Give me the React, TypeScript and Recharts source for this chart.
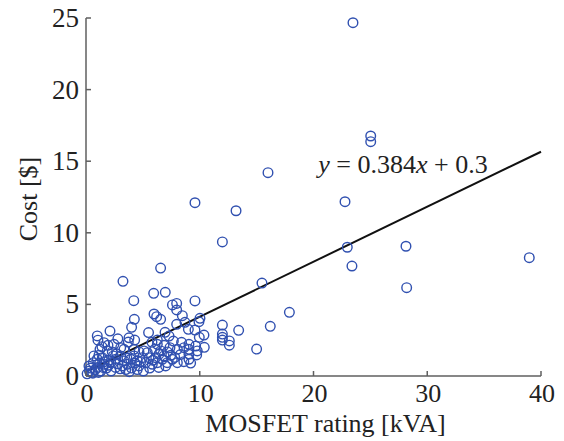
import { ScatterChart, Scatter, XAxis, YAxis, ReferenceLine, ReferenceDot, Label } from 'recharts';

// [kVA, $] pairs
const outlierPoints: [number, number][] = [
  [23.47, 24.67], [25.03, 16.76], [25.03, 16.36], [16.0, 14.2], [9.58, 12.1],
  [13.19, 11.54], [22.77, 12.17], [11.99, 9.36], [22.97, 8.99], [23.38, 7.68],
  [28.13, 9.06], [28.19, 6.17], [38.97, 8.26], [15.47, 6.49], [17.88, 4.45],
  [16.2, 3.47], [13.42, 3.19], [15.0, 1.88], [12.6, 2.45], [12.6, 2.15],
  [6.56, 7.54], [3.25, 6.61],
];

const upperPoints: [number, number][] = [
  [5.95, 5.77], [6.97, 5.84], [4.2, 5.26], [9.58, 5.24], [7.6, 4.96],
  [7.97, 5.07], [7.97, 4.61], [5.98, 4.33], [6.21, 4.14], [6.56, 3.96],
  [4.25, 3.96], [8.47, 4.21], [10.02, 4.03], [9.93, 3.79], [7.97, 3.61],
  [8.7, 3.75], [11.99, 3.56], [5.5, 3.03], [6.95, 3.05], [9.0, 3.26],
  [9.58, 3.21], [10.37, 2.86], [9.96, 2.7], [11.99, 2.93], [11.99, 2.7],
  [11.99, 2.51], [4.01, 3.4], [2.11, 3.14],
];

const middlePoints: [number, number][] = [
  [0.99, 2.8], [1.05, 2.5], [3.78, 2.67], [4.28, 2.51], [3.72, 2.37],
  [1.58, 2.33], [1.93, 2.14], [2.46, 2.21], [1.23, 1.86], [1.87, 1.75],
  [2.31, 1.68], [7.3, 2.79], [7.68, 2.44], [6.27, 2.21], [6.86, 2.14],
  [7.38, 1.98], [6.04, 1.86], [6.57, 1.75], [7.15, 1.68], [8.03, 1.86],
  [8.62, 1.98], [9.05, 2.21], [9.05, 1.86], [9.05, 1.52], [9.05, 1.17],
  [9.64, 2.09], [9.78, 1.75], [10.4, 2.0], [9.73, 1.47], [5.1, 1.75],
  [5.39, 1.63], [4.66, 1.68], [4.22, 1.86], [3.05, 1.98], [3.34, 1.86],
  [6.27, 2.51], [6.42, 1.52], [6.86, 1.4], [7.45, 1.45], [8.3, 1.5],
  [2.8, 2.6], [1.4, 2.05], [2.7, 1.55], [5.8, 2.35], [8.4, 2.35],
];

const lowerPoints: [number, number][] = [
  [0.26, 0.7], [0.64, 0.93], [0.99, 1.17], [1.43, 1.28], [1.58, 0.82],
  [2.17, 0.93], [2.61, 1.17], [3.05, 1.4], [3.34, 1.05], [3.63, 0.82],
  [3.93, 1.17], [4.22, 1.4], [4.51, 1.05], [4.66, 0.7], [4.95, 1.28],
  [5.25, 0.93], [5.04, 0.35], [5.54, 1.28], [5.83, 0.82], [6.27, 0.93],
  [6.13, 1.28], [6.71, 1.17], [7.15, 0.93], [7.59, 1.17], [8.03, 0.93],
  [0.7, 1.4], [1.14, 1.45], [0.1, 0.15], [0.3, 0.35], [0.5, 0.25],
  [0.8, 0.45], [1.0, 0.6], [1.3, 0.35], [1.8, 0.55], [2.2, 0.35],
  [2.6, 0.6], [3.0, 0.5], [3.5, 0.45], [4.0, 0.55], [1.2, 0.9],
  [2.0, 1.1], [2.8, 0.85], [4.3, 0.9], [5.6, 0.55], [6.4, 0.6],
  [7.0, 0.7], [0.4, 0.55], [1.6, 1.0], [2.4, 1.4], [8.6, 1.0],
  [9.2, 0.9], [1.5, 0.6], [2.0, 0.75], [3.2, 0.7], [3.8, 0.3],
  [4.5, 0.45], [0.6, 0.2], [1.1, 0.25], [3.6, 1.25], [4.8, 1.0],
  [5.9, 1.1], [7.8, 1.3],
];

const xTicks = [0, 10, 20, 30, 40];
const yTicks = [0, 5, 10, 15, 20, 25];
const fitSlope = 0.384;
const fitIntercept = 0.3;
const fitLabelAt = { x: 20.42, y: 14.16 };

const data = [...outlierPoints, ...upperPoints, ...middlePoints, ...lowerPoints].map(([x, y]) => ({ x, y }));

const serif = { fontFamily: "'Liberation Serif', 'Times New Roman', serif" };
const AXIS = '#5f5f5f';
const MARKER = '#3050b0';

const XTick = ({ x, y, payload }: any) => (
  <g>
    <line x1={x} y1={y} x2={x} y2={y - 5} stroke={AXIS} strokeWidth={1.5} />
    <text x={x + 1} y={y + 26} textAnchor="middle" fill="#222" style={{ ...serif, fontSize: 26 }}>
      {payload.value}
    </text>
  </g>
);

const YTick = ({ x, y, payload }: any) => (
  <g>
    <line x1={x} y1={y} x2={x + 5} y2={y} stroke={AXIS} strokeWidth={1.5} />
    <text x={x - 7} y={y + 9} textAnchor="end" fill="#222" style={{ ...serif, fontSize: 27 }}>
      {payload.value}
    </text>
  </g>
);

const Ring = ({ cx, cy }: any) => (
  <circle cx={cx} cy={cy} r={4.8} fill="none" stroke={MARKER} strokeWidth={1.4} />
);

const FitLabel = ({ cx, cy }: any) => (
  <text x={cx} y={cy} fill="#222" style={{ ...serif, fontSize: 26 }}>
    <tspan fontStyle="italic">y</tspan>
    <tspan> = 0.384</tspan>
    <tspan fontStyle="italic">x</tspan>
    <tspan> + 0.3</tspan>
  </text>
);

export default function App() {
  return (
    <div style={{ position: 'absolute', left: 0, top: 0 }}>
      <ScatterChart width={564} height={441} margin={{ top: 18, right: 23, left: 0, bottom: 0 }}>
        <XAxis
          type="number"
          dataKey="x"
          domain={[0, 40]}
          ticks={xTicks}
          height={65}
          stroke={AXIS}
          strokeWidth={1.5}
          tickLine={false}
          tickSize={0}
          tickMargin={0}
          tick={<XTick />}
        >
          <Label
            content={({ viewBox }: any) => (
              <text x={viewBox.x + viewBox.width / 2 + 12} y={432} textAnchor="middle" fill="#222" style={{ ...serif, fontSize: 26 }}>
                MOSFET rating [kVA]
              </text>
            )}
          />
        </XAxis>
        <YAxis
          type="number"
          dataKey="y"
          domain={[0, 25]}
          ticks={yTicks}
          width={86}
          stroke={AXIS}
          strokeWidth={1.5}
          tickLine={false}
          tickSize={0}
          tickMargin={0}
          tick={<YTick />}
        >
          <Label
            content={({ viewBox }: any) => {
              const cy = viewBox.y + viewBox.height / 2 + 2;
              return (
                <text x={37} y={cy} transform={`rotate(-90, 37, ${cy})`} textAnchor="middle" fill="#222" style={{ ...serif, fontSize: 26 }}>
                  Cost [$]
                </text>
              );
            }}
          />
        </YAxis>
        <Scatter data={data} shape={<Ring />} isAnimationActive={false} />
        <ReferenceLine
          segment={[
            { x: 0, y: fitIntercept },
            { x: 40, y: fitIntercept + fitSlope * 40 },
          ]}
          stroke="#111"
          strokeWidth={2}
        />
        <ReferenceDot x={fitLabelAt.x} y={fitLabelAt.y} shape={<FitLabel />} />
      </ScatterChart>
    </div>
  );
}
